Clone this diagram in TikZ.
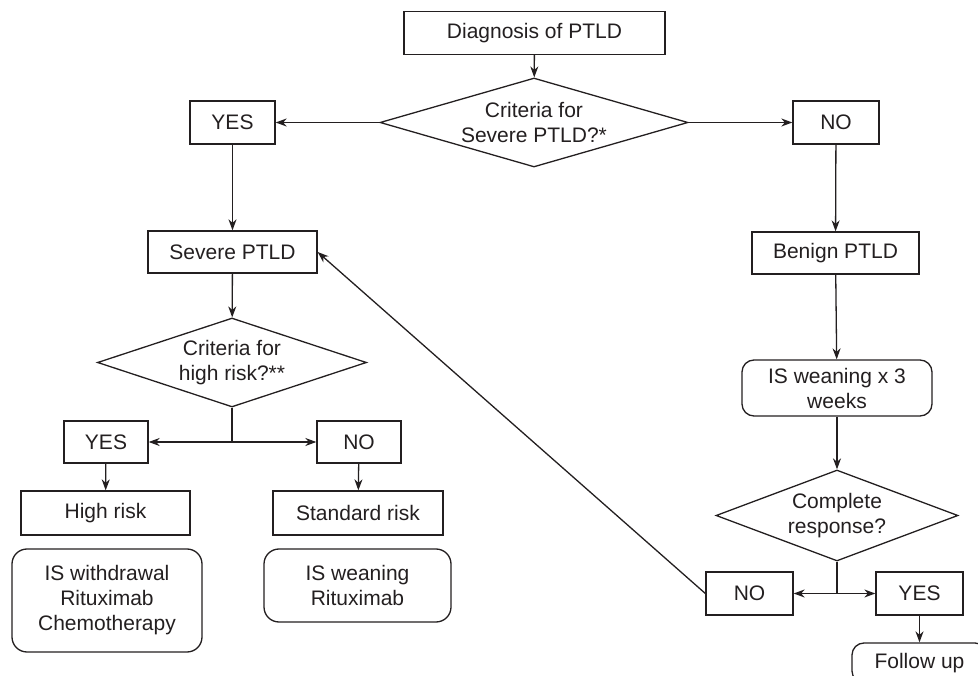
\documentclass[tikz,border=0pt]{standalone}
\usepackage{fontspec}
\setmainfont{Liberation Sans}
\usepackage{tikz}
\usetikzlibrary{arrows.meta}
\usetikzlibrary{shapes.geometric}
\usetikzlibrary{positioning}
\definecolor{ink}{RGB}{35,31,32}
\tikzset{
box/.style = {draw=ink, line width=1.3pt, rectangle, inner sep=0pt,
              align=center, minimum width=#1, minimum height=43pt},
box/.default = 86pt, % width of the small YES/NO boxes
rbox/.style = {box=#1, rounded corners=12pt},
choice/.style = {draw=ink, line width=1.3pt, diamond, align=center,
                 inner xsep=-12pt, inner ysep=0pt},
flow/.style = {-{Stealth[length=11pt,width=8pt,inset=3.5pt]}, draw=ink,
               line width=1.3pt}
}
\newcommand{\flowto}[2]{\draw[flow] (#1) -- (#2);}
\begin{document}
\begin{tikzpicture}[x=1pt, y=-1pt, font=\fontsize{21pt}{25pt}\selectfont, text=ink]
        \useasboundingbox (0,0) rectangle (978,676);
        % first decision
        \node[box=261pt] (diag) at (534.5,33) {Diagnosis of PTLD};
        \node[choice, minimum width=308pt, minimum height=89pt, aspect=3.4] (crit1) at (534,122.5) {Criteria for\\Severe PTLD?*};
        \node[box=85pt] (yes1) at (232.5,122.5) {YES};
        \node[box] (no1) at (836,122.5) {NO};
        \node[box=169pt, minimum height=42pt] (severe) at (232.5,252) {Severe PTLD};
        \node[box=167pt, minimum height=42pt] (benign) at (835.5,253) {Benign PTLD};
        % severe branch
        \node[choice, minimum width=269pt, minimum height=89pt, aspect=3] (crit2) at (232,362.5) {Criteria for\\high risk?**};
        \node[box=84pt, minimum height=42pt] (yes2) at (106,442) {YES};
        \node[box=84pt, minimum height=42pt] (no2) at (359,442) {NO};
        \node[box=169pt, minimum height=44pt] (high) at (105.5,513) {High risk};
        \node[box=170pt, minimum height=44pt] (std) at (358,513) {Standard risk};
        \node[rbox=190pt, minimum height=103pt, rounded corners=15pt] (withdraw) at (107,600.5) {IS withdrawal\\Rituximab\\Chemotherapy};
        \node[rbox=187pt, minimum height=73pt, rounded corners=15pt] (weanrit) at (357.5,585.5) {IS weaning\\Rituximab};
        % benign branch
        \node[rbox=190pt, minimum height=56pt] (wean3) at (837,388) {IS weaning x 3\\weeks};
        \node[choice, minimum width=242pt, minimum height=91pt, aspect=2.66] (crit3) at (837,515.5) {Complete\\response?};
        \node[box=87pt] (no3) at (749.5,593.5) {NO};
        \node[box=87pt] (yes3) at (919.5,593.5) {YES};
        \node[rbox=135pt, minimum height=40pt] (follow) at (919.5,663) {Follow up};
        % connectors
        \flowto{diag}{crit1};
        \flowto{crit1}{yes1};
        \flowto{crit1}{no1};
        \flowto{yes1}{severe};
        \flowto{no1}{benign};
        \flowto{severe}{crit2};
        \draw[flow] (crit2.south) |- (yes2);
        \draw[flow] (crit2.south) |- (no2);
        \flowto{yes2}{high};
        \flowto{no2}{std};
        \flowto{benign}{wean3};
        \flowto{wean3}{crit3};
        \draw[flow] (crit3.south) |- (no3);
        \draw[flow] (crit3.south) |- (yes3);
        \flowto{yes3}{follow};
        \flowto{no3.west}{severe.east};
        \end{tikzpicture}
\end{document}
